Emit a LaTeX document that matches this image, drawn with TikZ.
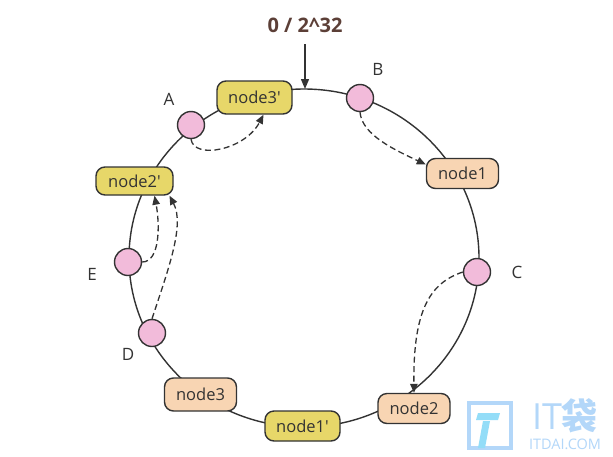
\documentclass[tikz,border=0pt]{standalone}
\usepackage{fontspec}
\setmainfont{Open Sans}[Ligatures=TeXOff]
\newfontfamily\cjk{Noto Sans CJK SC}
\usetikzlibrary{arrows.meta}
\definecolor{ink}{HTML}{333333}
\definecolor{pinkf}{HTML}{F2BBDA}
\definecolor{yel}{HTML}{E7D769}
\definecolor{ora}{HTML}{F8D5B3}
\definecolor{titlec}{HTML}{5C3F37}
\definecolor{wmblue}{HTML}{B3D7F9}
\definecolor{wmcyan}{HTML}{93DDF8}
\begin{document}
\begin{tikzpicture}[x=1pt,y=-1pt,
  box/.style={draw=ink, line width=1.4pt, rounded corners=9pt, minimum width=72pt, minimum height=30pt, inner sep=0pt, font=\fontsize{16.5}{19}\selectfont, text=ink},
  vnode/.style={box, fill=yel},
  pnode/.style={box, fill=ora},
  keynode/.style={circle, draw=ink, line width=1.4pt, fill=pinkf, minimum size=27pt, inner sep=0pt},
  lbl/.style={font=\fontsize{17}{20}\selectfont, text=ink},
  dasharrow/.style={draw=ink, line width=1.3pt, dash pattern=on 6pt off 3.5pt, -{Triangle[length=9pt,width=7.5pt]}},
  ring/.style={draw=ink, line width=1.4pt},
]
\useasboundingbox (0,0) rectangle (613,456);
\fill[white] (0,0) rectangle (613,456);
% ring
\draw[ring] (304,258) ellipse [x radius=175pt, y radius=169pt];
% virtual / physical nodes
\node[vnode, minimum width=75pt, minimum height=33pt] (n3p) at (254.5,97.5) {node3'};
\node[pnode] (n1) at (462.5,173.5) {node1};
\node[vnode, minimum width=77pt, minimum height=28pt] (n2p) at (134.5,181) {node2'};
\node[pnode, minimum height=33pt] (n3) at (200.5,394.5) {node3};
\node[vnode, minimum width=75pt] (n1p) at (302.5,426) {node1'};
\node[pnode] (n2) at (414,408.5) {node2};
% keys
\node[keynode] (A) at (191,125) {};
\node[keynode] (B) at (360,98) {};
\node[keynode] (C) at (477,272) {};
\node[keynode] (D) at (152,333) {};
\node[keynode] (E) at (128,262) {};
% labels
\node[lbl] (la) at (169,99) {A};
\node[lbl] (lb) at (378,69) {B};
\node[lbl] (lc) at (517,272) {C};
\node[lbl] (ld) at (128,354) {D};
\node[lbl] (le) at (92,274) {E};
% zero marker
\node[font=\bfseries\fontsize{20}{23}\selectfont, text=titlec] (title) at (305,25) {0 / 2\^{}32};
\coordinate (zs) at (305,44);
\coordinate (zero) at (305,89);
\draw[ring, -{Triangle[length=10pt,width=8pt]}] (zs) -- (zero);
% key -> node assignments
\draw[dasharrow] (A.south) .. controls (194,160) and (245,150) .. ([xshift=9pt]n3p.south);
\draw[dasharrow] (B.south) .. controls (362,135) and (395,150) .. ([yshift=9pt]n1.west);
\draw[dasharrow] (C.west) .. controls (430,283) and (413,310) .. (n2.north);
\draw[dasharrow] (E.east) .. controls (160,262) and (160,225) .. ([xshift=20pt]n2p.south);
\draw[dasharrow] (D.north) .. controls (168,270) and (185,225) .. ([xshift=35pt]n2p.south);
% watermark
\draw[wmblue, line width=4pt] (469,403) rectangle (511,448);
\fill[wmcyan] (478,413) -- (500,413) -- (498,420) -- (476,420) -- cycle;
\fill[wmcyan] (483,421) -- (490,421) -- (485,448) -- (478,448) -- cycle;
\node[text=wmblue, font=\fontsize{36}{38}\selectfont, inner sep=0pt] (wm1) at (565,416) {IT{\cjk\bfseries 袋}};
\node[text=wmblue, font=\fontsize{14.5}{16}\selectfont, inner sep=0pt] (wm2) at (565,444) {ITDAI.COM};
\end{tikzpicture}
\end{document}
